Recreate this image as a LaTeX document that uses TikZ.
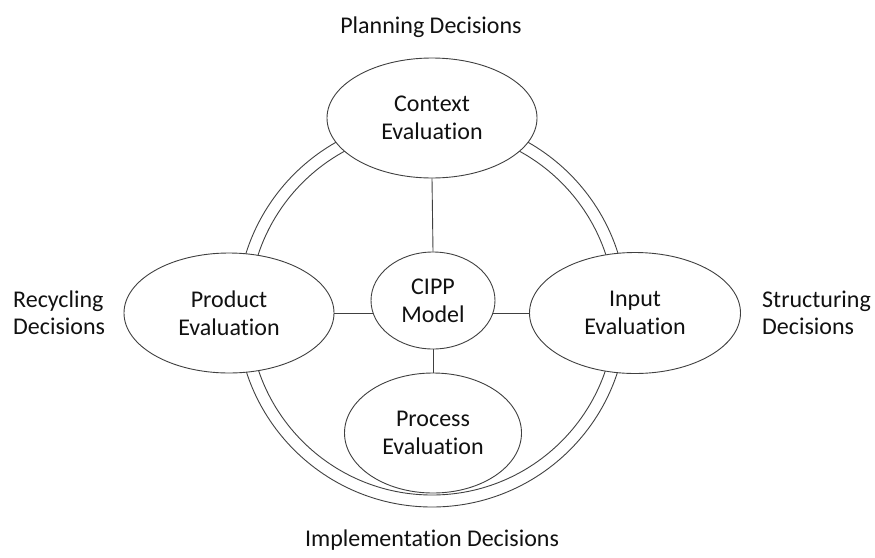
\documentclass[tikz,border=0pt]{standalone}
\usepackage{fontspec}
\setmainfont{Carlito}[Ligatures={NoCommon}]
\usetikzlibrary{shapes.geometric,backgrounds}
\definecolor{ln}{HTML}{404040}
\definecolor{tx}{HTML}{111111}
\tikzset{
  evalbox/.style={draw=ln, line width=0.9pt, fill=white, ellipse, inner sep=0pt,
    align=center, text=tx, font=\fontsize{24}{28}\selectfont},
  decision/.style={text=tx, inner sep=0pt, font=\fontsize{24}{27.5}\selectfont},
  ring/.style={draw=ln, line width=0.9pt},
  link/.style={draw=ln, line width=0.9pt}
}
\begin{document}
\begin{tikzpicture}[x=1pt,y=-1pt]
\useasboundingbox (0,0) rectangle (875,557);
\coordinate (ringc) at (432,312);
\node[evalbox, minimum width=210, minimum height=120] (ctx) at (432,118) {Context\\Evaluation};
\node[evalbox, minimum width=210, minimum height=120] (prod) at (229,313) {Product\\Evaluation};
\node[evalbox, minimum width=211, minimum height=121] (inp) at (635,313) {Input\\Evaluation};
\node[evalbox, minimum width=124, minimum height=97] (cipp) at (433,300.5) {CIPP\\Model};
\node[evalbox, minimum width=177, minimum height=120] (proc) at (433,433) {Process\\Evaluation};
\node[decision] (plan) at (431,27) {Planning Decisions};
\node[decision, align=left, anchor=west] (recy) at (13,313) {Recycling\\Decisions};
\node[decision, align=left, anchor=west] (struc) at (762,313) {Structuring\\Decisions};
\node[decision] (impl) at (432,540) {Implementation Decisions};
\begin{scope}[on background layer]
  \draw[ring] (ringc) circle[radius=195];
  \draw[ring] (ringc) circle[radius=183];
  \draw[link] (ctx.south) -- (cipp.north);
  \draw[link] (cipp.south) -- (proc.north);
  \draw[link] (prod.east) -- (prod.east -| cipp.center);
  \draw[link] (inp.west) -- (inp.west -| cipp.center);
\end{scope}
\end{tikzpicture}
\end{document}
